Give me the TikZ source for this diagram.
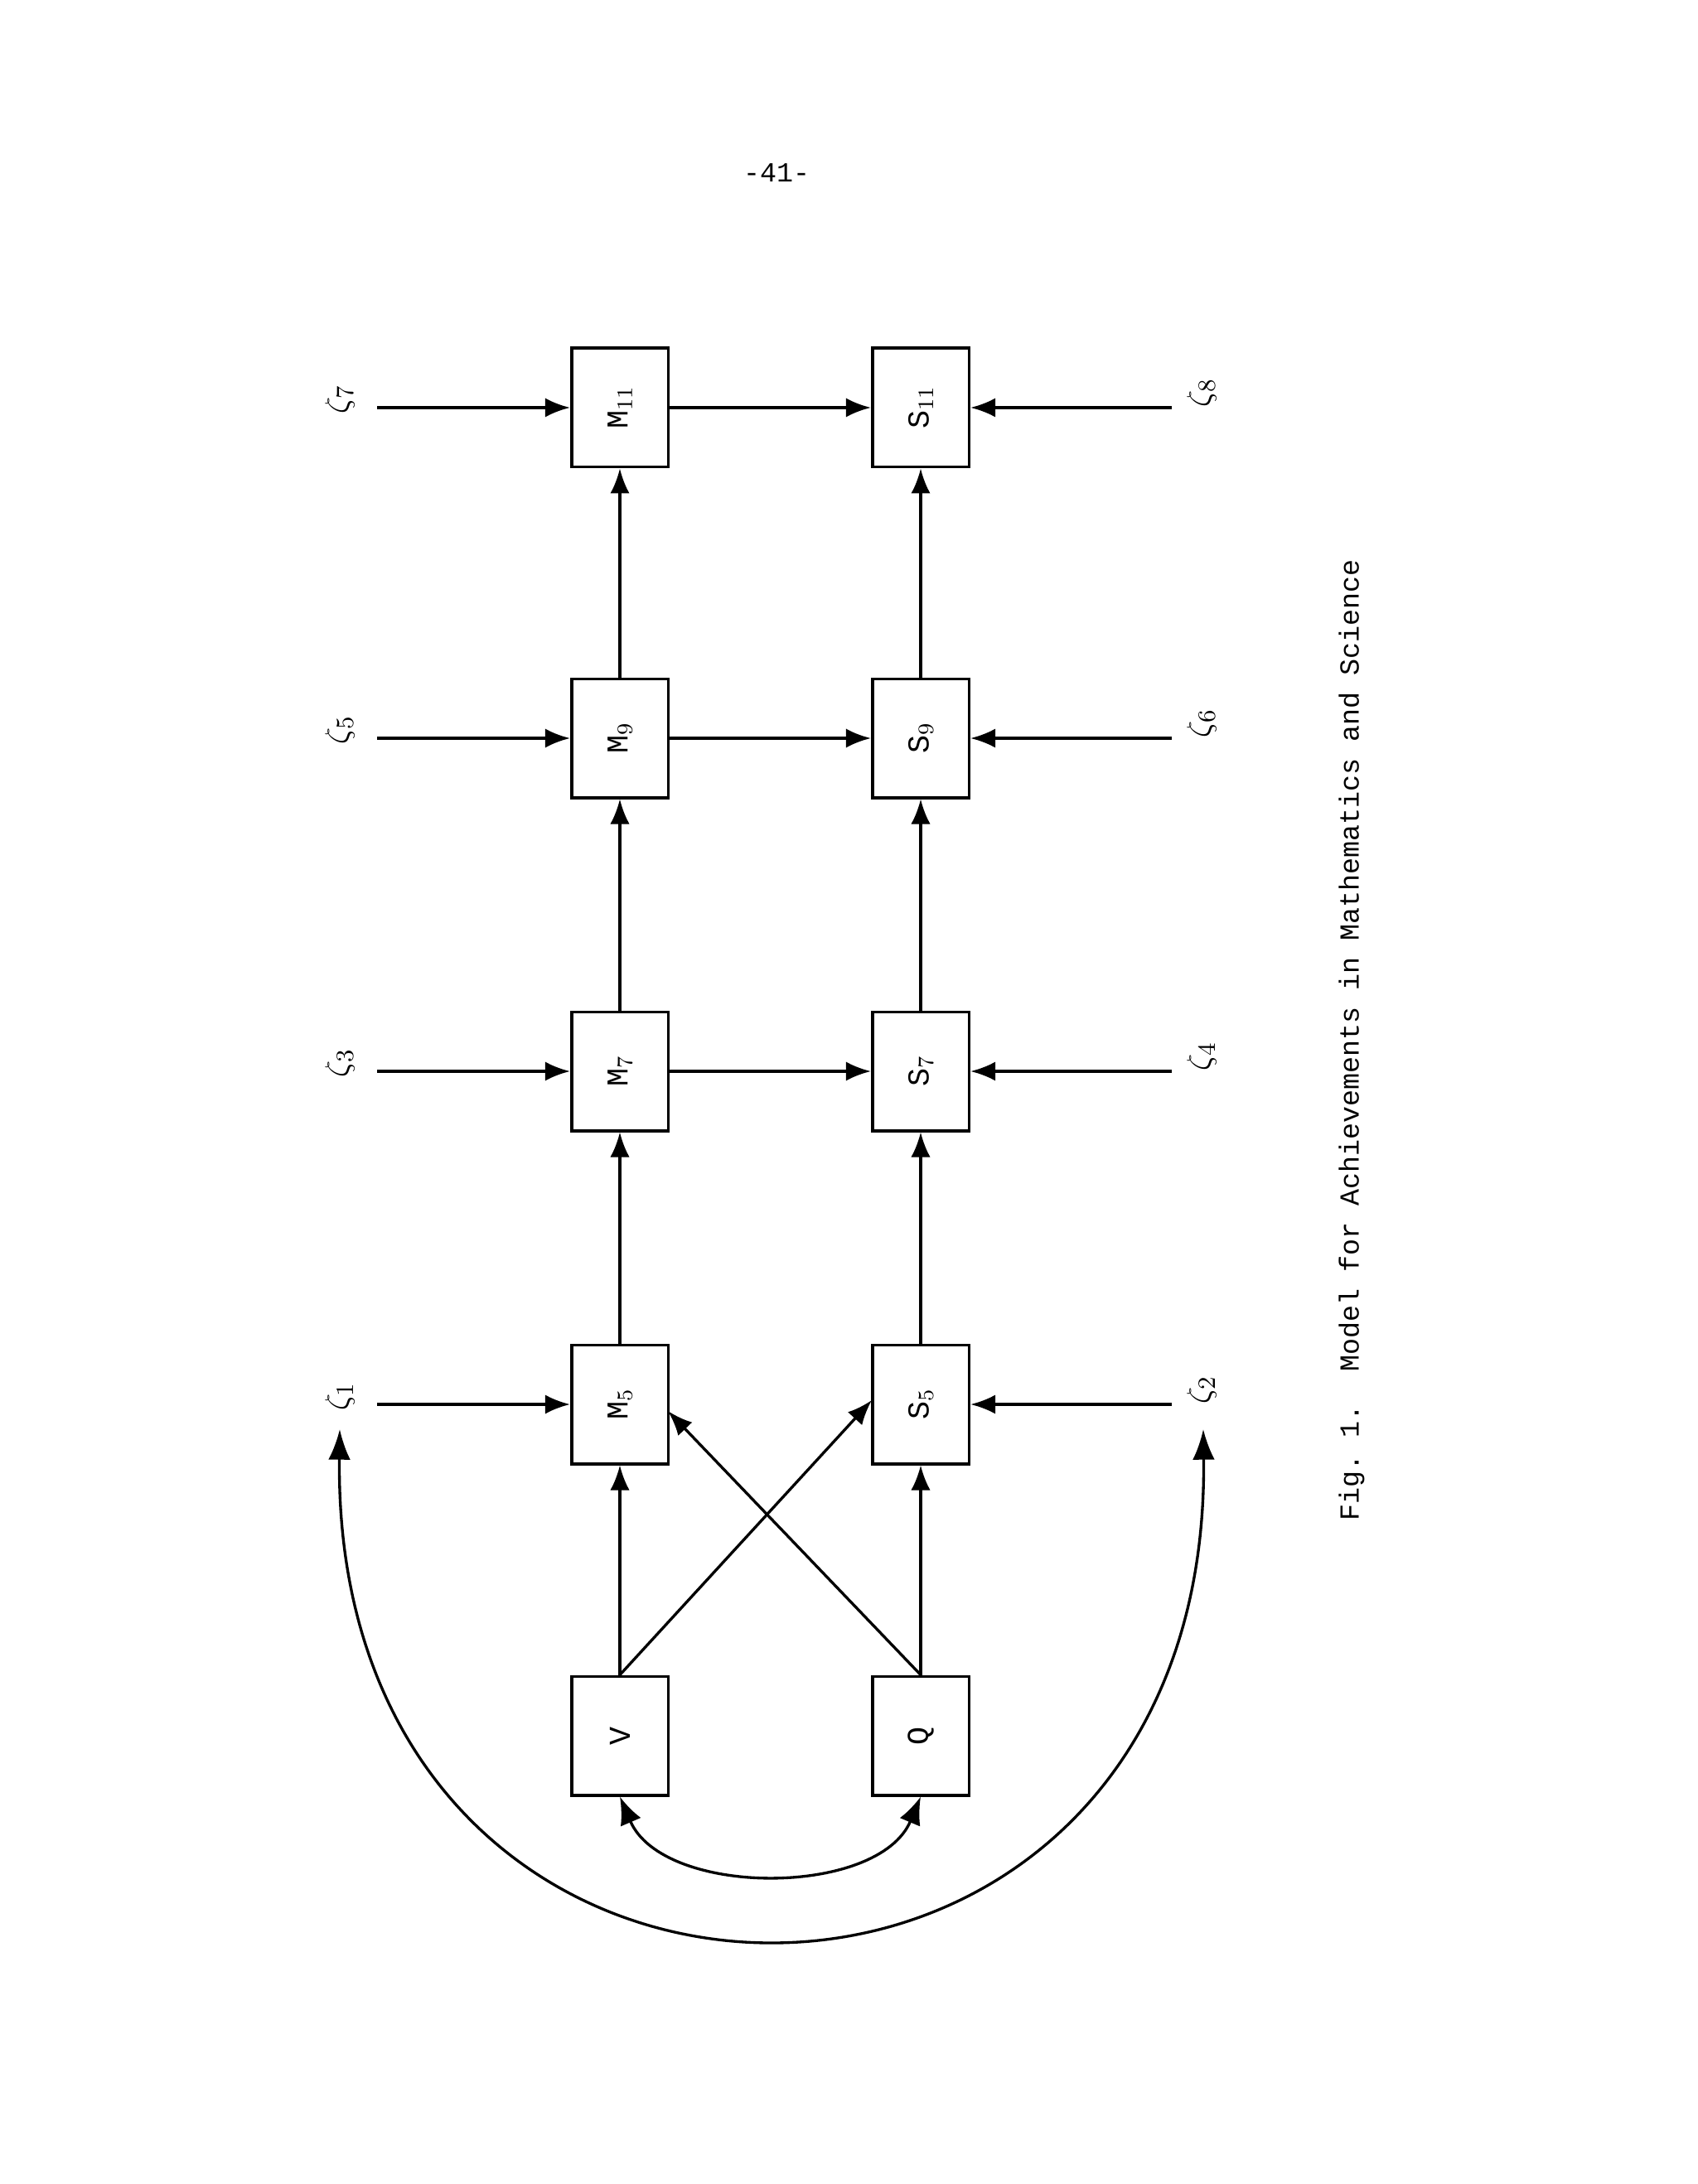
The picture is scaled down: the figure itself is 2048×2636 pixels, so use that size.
\documentclass[tikz,border=0pt]{standalone}
\usepackage{fontspec}
\setmonofont{Liberation Mono}
\usetikzlibrary{arrows.meta}
\begin{document}
\begin{tikzpicture}[x=0.3pt,y=-0.3pt,
  box/.style={draw,line width=1.1pt,minimum width=43pt,minimum height=35pt,inner sep=0pt,rotate=90,font=\ttfamily\fontsize{11}{12}\selectfont},
  arr/.style={line width=1pt,-{Latex[length=9pt,width=7pt]}},
  zl/.style={rotate=90,font=\fontsize{13}{14}\selectfont}]
\useasboundingbox (0,0) rectangle (2048,2636);
\node[font=\ttfamily\fontsize{10}{12}\selectfont] at (937,209) {-41-};
\node[box] (M11) at (748,492) {M$_{11}$};
\node[box] (M9) at (748,891) {M$_{9}$};
\node[box] (M7) at (748,1293) {M$_{7}$};
\node[box] (M5) at (748,1695) {M$_{5}$};
\node[box] (V) at (748,2095) {V};
\node[box] (S11) at (1111,492) {S$_{11}$};
\node[box] (S9) at (1111,891) {S$_{9}$};
\node[box] (S7) at (1111,1293) {S$_{7}$};
\node[box] (S5) at (1111,1695) {S$_{5}$};
\node[box] (Q) at (1111,2095) {Q};
\foreach \a/\b in {M9/M11,M7/M9,M5/M7,V/M5,S9/S11,S7/S9,S5/S7,Q/S5,M11/S11,M9/S9,M7/S7}
  \draw[arr] (\a) -- (\b);
\coordinate (s5in) at (1052,1690);
\coordinate (m5in) at (806,1703);
\draw[arr] (V.east) -- (s5in);
\draw[arr] (Q.east) -- (m5in);
\foreach \n/\y/\t in {1/1695/M5,3/1293/M7,5/891/M9,7/492/M11}{
  \node[zl] (z\n) at (410,\y-10) {$\zeta_{\n}$};
  \coordinate (zs\n) at (455,\y);
  \draw[arr] (zs\n) -- (\t);}
\foreach \n/\y/\t in {2/1695/S5,4/1293/S7,6/891/S9,8/492/S11}{
  \node[zl] (z\n) at (1450,\y-18) {$\zeta_{\n}$};
  \coordinate (zs\n) at (1414,\y);
  \draw[arr] (zs\n) -- (\t);}
\coordinate (a1) at (410,1725);
\coordinate (a2) at (1452,1725);
\draw[arr,{Latex[length=11pt,width=8pt]}-{Latex[length=11pt,width=8pt]}] (a1) .. controls (400,2540) and (1462,2540) .. (a2);
\draw[arr,{Latex[length=10pt,width=8pt]}-{Latex[length=10pt,width=8pt]}] (V.west) .. controls (800,2290) and (1060,2290) .. (Q.west);
\node[rotate=90,font=\ttfamily\fontsize{10}{12}\selectfont] (cap) at (1631,1255) {Fig. 1.\ \ Model for Achievements in Mathematics and Science};
\end{tikzpicture}
\end{document}
